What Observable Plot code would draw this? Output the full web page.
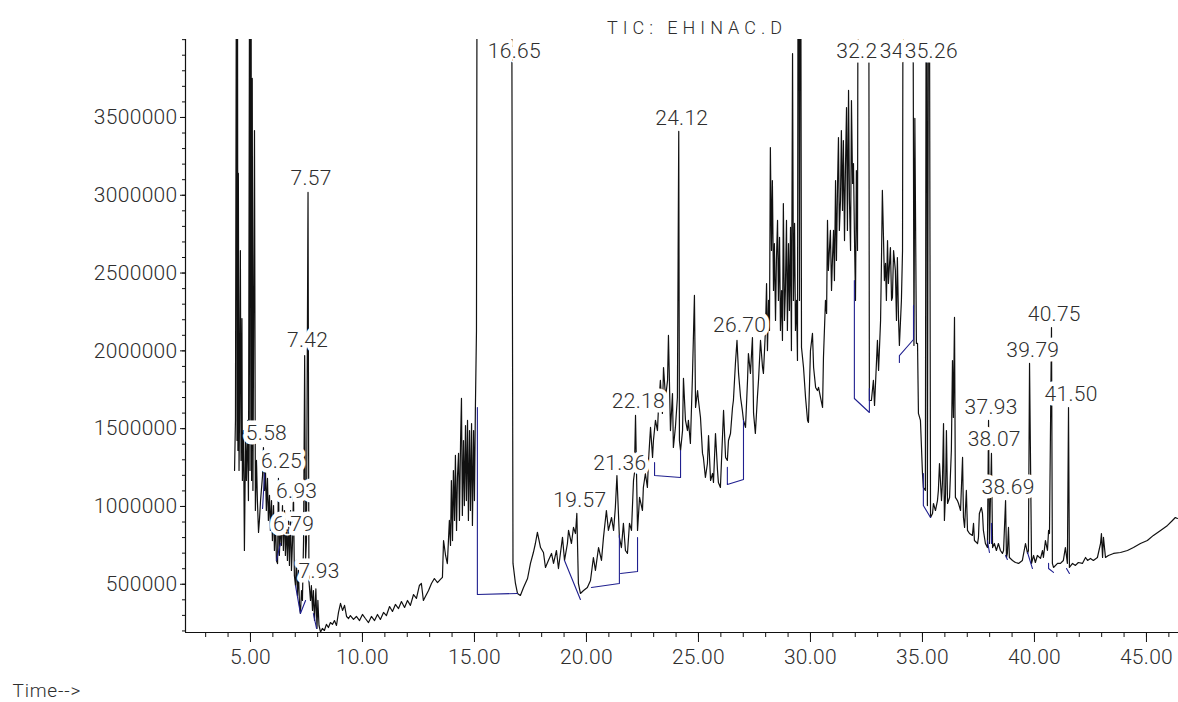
<!DOCTYPE html>
<html><head><meta charset="utf-8">
<script src="https://cdn.jsdelivr.net/npm/d3@7"></script>
<script src="https://cdn.jsdelivr.net/npm/@observablehq/plot@0.6"></script>
<style>
html,body{margin:0;padding:0;background:#fff;}
svg{display:block;}
svg text{letter-spacing:0.3px;font-weight:300;}
</style></head><body><div id="chart"></div>
<script>
// ---- chromatogram trace: [time (min), abundance] ----
const traceA = [[4.29,1231000],[4.33,1553000],[4.38,5200000],[4.40,1424000],[4.42,4800000],[4.44,1360000],[4.46,3140000],[4.49,1231000],[4.51,1553000],[4.55,2645000],[4.58,1296000],[4.62,2208000],[4.64,1167000],[4.69,1488000],[4.73,717000],[4.78,1424000],[4.82,1167000],[4.87,1553000],[4.91,1038000],[4.96,4500000],[4.98,1231000],[5.02,6000000],[5.05,1167000],[5.08,3751000],[5.11,1103000],[5.18,3416000],[5.22,974000],[5.27,1296000],[5.31,1038000],[5.36,833000],[5.40,910000],[5.45,1038000],[5.54,1199000],[5.58,1379000],[5.63,1103000],[5.67,1231000],[5.71,974000],[5.76,1180000],[5.80,910000],[5.85,1071000],[5.89,846000],[5.94,1038000],[5.98,781000],[6.03,1006000],[6.07,717000],[6.12,910000],[6.16,653000],[6.21,633000],[6.25,1180000],[6.29,685000],[6.34,910000],[6.38,749000],[6.43,1006000],[6.47,717000],[6.52,974000],[6.56,685000],[6.61,878000],[6.65,653000],[6.70,910000],[6.74,621000],[6.79,974000],[6.83,589000],[6.88,781000],[6.92,1103000],[6.96,556000],[7.01,492000],[7.05,653000],[7.10,428000],[7.14,589000],[7.19,364000],[7.23,312000],[7.28,460000],[7.32,396000],[7.37,781000],[7.42,1970000],[7.46,653000],[7.50,781000],[7.57,3018000],[7.61,524000],[7.68,396000],[7.72,492000],[7.77,332000],[7.81,460000],[7.86,267000],[7.92,470000],[7.97,216000],[8.01,396000],[8.06,235000],[8.13,193000],[8.21,216000],[8.30,203000],[8.39,242000],[8.48,222000],[8.57,254000],[8.66,242000],[8.75,267000],[8.84,235000],[8.93,319000],[9.02,377000],[9.11,332000],[9.20,364000],[9.29,293000],[9.38,280000],[9.46,299000],[9.60,274000],[9.73,293000],[9.87,267000]];
const traceB = [[10.00,306000],[10.13,280000],[10.27,254000],[10.40,293000],[10.54,267000],[10.67,306000],[10.80,274000],[10.94,319000],[11.07,299000],[11.21,357000],[11.34,325000],[11.47,370000],[11.61,344000],[11.74,389000],[11.88,351000],[12.01,396000],[12.14,364000],[12.28,434000],[12.41,409000],[12.54,492000],[12.63,505000],[12.72,396000],[12.81,421000],[12.95,460000],[13.08,505000],[13.21,537000],[13.35,511000],[13.48,531000],[13.57,544000],[13.62,781000],[13.71,685000],[13.79,633000],[13.88,910000],[13.93,749000],[13.97,1167000],[14.02,781000],[14.06,1231000],[14.11,910000],[14.15,1328000],[14.20,846000],[14.24,1186000],[14.29,1341000],[14.33,910000],[14.38,1424000],[14.42,1694000],[14.46,942000],[14.51,1424000],[14.55,1006000],[14.60,1520000],[14.64,1038000],[14.69,1553000],[14.73,910000],[14.78,1488000],[14.82,974000],[14.87,1533000],[14.91,878000],[14.96,1488000],[15.00,1038000],[15.04,1617000],[15.09,2131000],[15.13,6000000],[16.64,6000000]];
const traceC = [[16.72,634000],[16.83,505000],[16.92,441000],[17.05,428000],[17.19,479000],[17.37,537000],[17.50,634000],[17.63,704000],[17.72,762000],[17.81,833000],[17.95,736000],[18.08,704000],[18.17,608000],[18.30,653000],[18.44,698000],[18.53,634000],[18.66,717000],[18.75,601000],[18.93,801000],[19.02,653000],[19.15,762000],[19.20,846000],[19.33,762000],[19.42,865000],[19.51,826000],[19.57,955000],[19.64,505000],[19.73,441000],[19.87,460000],[20.04,479000],[20.18,524000],[20.31,672000],[20.40,589000],[20.54,736000],[20.67,653000],[20.76,801000],[20.89,974000],[20.98,846000],[21.12,929000],[21.21,846000],[21.29,993000],[21.36,1199000],[21.47,801000],[21.56,736000],[21.65,891000],[21.74,717000],[21.83,698000],[21.92,891000],[22.01,846000],[22.10,1167000],[22.14,1212000],[22.19,1585000],[22.28,846000],[22.37,1058000],[22.50,974000],[22.54,1122000],[22.63,1212000],[22.72,1122000],[22.77,1296000],[22.86,1508000],[22.95,1315000],[22.99,1424000],[23.08,1553000],[23.17,1488000],[23.21,1617000],[23.30,1810000],[23.39,1598000],[23.44,1893000],[23.53,1700000],[23.62,1810000],[23.66,2099000],[23.75,1488000],[23.84,1726000],[23.88,1379000],[23.97,1508000],[24.06,1700000],[24.12,3410000],[24.15,1424000],[24.20,1360000],[24.29,1488000],[24.33,1823000],[24.42,1553000],[24.51,1488000],[24.55,1553000],[24.64,1405000],[24.73,1829000],[24.82,2356000],[24.87,1636000],[24.96,1745000],[25.00,1681000],[25.09,1572000],[25.18,1341000],[25.22,1315000],[25.31,1186000],[25.40,1276000],[25.45,1456000],[25.54,1167000],[25.63,1212000],[25.67,1154000],[25.76,1469000],[25.85,1231000],[25.89,1154000],[25.98,1122000],[26.12,1617000],[26.21,1315000],[26.29,1296000],[26.34,1424000],[26.43,1469000],[26.52,1636000],[26.56,1681000],[26.65,1919000],[26.72,2067000],[26.79,1855000],[26.88,1700000],[26.96,1617000],[27.01,1553000],[27.10,1508000],[27.19,1810000],[27.23,1983000],[27.32,1855000],[27.41,2086000],[27.46,1598000],[27.54,1469000],[27.63,1700000],[27.68,1810000],[27.77,2067000],[27.86,1893000],[27.90,1855000]];
const traceD = [[27.99,2131000],[28.04,2433000],[28.08,2002000],[28.13,2324000],[28.17,2131000],[28.21,3307000],[28.26,2645000],[28.30,3095000],[28.35,2388000],[28.39,2690000],[28.44,2195000],[28.48,2581000],[28.53,2838000],[28.57,2324000],[28.62,2729000],[28.66,2131000],[28.71,2388000],[28.75,2067000],[28.79,2947000],[28.84,2195000],[28.88,2388000],[28.93,2838000],[28.97,2131000],[29.02,2690000],[29.06,2260000],[29.11,2793000],[29.15,2002000],[29.20,3911000],[29.24,2324000],[29.29,2819000],[29.33,2131000],[29.38,2324000],[29.42,1938000],[29.46,6000000],[29.51,2324000],[29.55,6000000],[29.60,2022000],[29.69,1893000],[29.78,1700000],[29.87,1553000],[29.91,1540000],[30.00,2002000],[30.09,2112000],[30.14,1893000],[30.23,1765000],[30.31,1745000],[30.36,1765000],[30.45,1700000],[30.54,1636000],[30.58,1958000],[30.67,2324000],[30.72,2240000],[30.76,2838000],[30.80,2517000],[30.89,2774000],[30.94,2388000],[30.98,2581000],[31.03,2774000],[31.07,2452000],[31.12,3095000],[31.16,2581000],[31.21,3076000],[31.25,3371000],[31.29,2774000],[31.34,2967000],[31.38,3416000],[31.43,2902000],[31.47,3352000],[31.52,2709000],[31.56,3159000],[31.61,3564000],[31.65,2774000],[31.70,3674000],[31.74,2967000],[31.79,2645000],[31.83,3609000],[31.88,3076000],[31.92,3204000],[31.96,2774000],[32.01,2324000],[32.05,3159000],[32.10,2645000],[32.14,6000000],[32.59,6000000],[32.63,1681000],[32.72,1681000],[32.81,1810000],[32.86,1649000],[32.95,1938000],[32.99,2067000],[33.04,1874000],[33.13,2195000],[33.17,2581000],[33.21,3031000],[33.26,2729000],[33.30,2452000],[33.35,2562000],[33.39,2324000],[33.44,2709000],[33.48,2433000],[33.57,2664000],[33.62,2324000],[33.66,2343000],[33.71,2645000],[33.79,2517000],[33.84,2195000],[33.88,2600000],[33.93,2215000],[33.97,2035000],[34.06,2324000],[34.11,2645000],[34.15,6000000],[34.55,6000000],[34.62,2035000],[34.66,3494000],[34.73,2048000],[34.78,2048000],[34.82,1598000],[34.91,1553000],[35.00,1212000],[35.04,1122000],[35.13,1103000],[35.18,6000000],[35.22,1006000],[35.29,6000000]];
const traceE = [[35.36,929000],[35.45,955000],[35.49,1019000],[35.58,974000],[35.67,1038000],[35.71,1103000],[35.76,1276000],[35.85,1038000],[35.89,1148000],[35.94,1533000],[35.98,910000],[36.03,1083000],[36.07,1488000],[36.12,1019000],[36.21,1058000],[36.29,1360000],[36.34,1938000],[36.38,1572000],[36.43,2215000],[36.47,1058000],[36.56,1038000],[36.61,1019000],[36.70,974000],[36.79,1315000],[36.83,929000],[36.88,865000],[36.96,1103000],[37.01,846000],[37.10,826000],[37.23,814000],[37.28,891000],[37.32,781000],[37.46,762000],[37.50,801000],[37.54,955000],[37.63,993000],[37.68,955000],[37.72,846000],[37.81,762000],[37.90,736000],[37.95,1553000],[37.99,762000],[38.08,1341000],[38.13,736000],[38.21,762000],[38.30,717000],[38.39,762000],[38.48,717000],[38.57,698000],[38.62,717000],[38.71,1038000],[38.75,672000],[38.79,698000],[38.84,865000],[38.88,672000],[39.02,653000],[39.15,640000],[39.29,634000],[39.46,653000],[39.60,762000],[39.69,698000],[39.73,717000],[39.78,1919000],[39.87,634000],[39.96,685000],[40.04,640000],[40.13,685000],[40.27,666000],[40.36,717000],[40.40,672000],[40.49,781000],[40.58,717000],[40.63,846000],[40.67,826000],[40.76,2150000],[40.80,634000],[40.85,608000],[41.03,634000],[41.16,634000],[41.29,653000],[41.38,736000],[41.47,634000],[41.52,1636000],[41.56,608000],[41.70,634000],[41.83,621000],[41.96,640000],[42.14,634000],[42.28,672000],[42.37,653000],[42.50,666000],[42.63,653000],[42.81,672000],[42.95,762000],[42.99,826000],[43.04,672000],[43.08,801000],[43.17,672000],[43.30,685000],[43.53,698000],[43.84,704000],[44.15,717000],[44.42,736000],[44.73,762000],[45.04,781000],[45.31,814000],[45.63,846000],[45.94,878000],[46.16,910000],[46.29,929000],[46.38,923000]];

// ---- integration baselines (blue) ----
const baselines = [
  [[5.54,987000],[5.63,1212000]],
  [[6.16,653000],[6.34,762000]],
  [[7.01,492000],[7.23,312000],[7.46,396000]],
  [[7.81,312000],[7.95,216000]],
  [[15.13,1636000],[15.13,434000],[16.92,441000]],
  [[19.02,653000],[19.73,402000]],
  [[20.22,479000],[21.47,505000],[21.47,814000]],
  [[21.52,569000],[22.28,582000],[22.28,801000]],
  [[23.04,1283000],[23.04,1199000],[24.20,1186000],[24.20,1360000]],
  [[26.29,1251000],[26.29,1141000],[27.01,1173000],[27.01,1553000]],
  [[31.96,2452000],[31.96,1694000],[32.63,1604000],[32.63,1758000]],
  [[33.97,1925000],[33.97,1970000],[34.60,2073000],[34.60,2292000]],
  [[35.04,1212000],[35.04,1006000],[35.36,929000]],
  [[37.90,781000],[37.99,704000]],
  [[38.08,891000],[38.08,762000]],
  [[38.71,685000],[38.79,659000]],
  [[39.69,704000],[39.91,601000]],
  [[40.63,634000],[40.63,601000],[40.85,576000]],
  [[41.43,601000],[41.56,569000]]
];

// ---- peak labels ----
const labelTimes  = [5.58, 6.25, 6.79, 6.93, 7.42, 7.57, 7.93, 16.65, 19.57, 21.36, 22.18, 24.12, 26.70, 32.20, 34.15, 35.26, 37.93, 38.07, 38.69, 39.79, 40.75, 41.50];
const labelTexts  = ["5.58","6.25","6.79","6.93","7.42","7.57","7.93","16.65","19.57","21.36","22.18","24.12","26.70","32.20","34.15","35.26","37.93","38.07","38.69","39.79","40.75","41.50"];
const labelLevels = [1469000,1289000,884000,1096000,2067000,3108000,582000,3924000,1038000,1276000,1675000,3494000,2163000,3924000,3924000,3924000,1636000,1431000,1122000,2002000,2234000,1720000];

// ---- axes ----
const xTickValues = [5, 10, 15, 20, 25, 30, 35, 40, 45];
const yTickValues = [500000, 1000000, 1500000, 2000000, 2500000, 3000000, 3500000];
const xDomain = [2.1, 46.43];
const yDomain = [190000, 4001000];
const titleText = "TIC: EHINAC.D";
const xAxisText = "Time-->";

const trace = [...traceA, ...traceB, ...traceC, ...traceD, ...traceE].map(([t, v]) => ({t, v}));
const baseRows = baselines.flatMap((pts, i) => pts.map(([t, v]) => ({id: i, t, v})));
const labels = labelTimes.map((t, i) => ({t, v: labelLevels[i], text: labelTexts[i]}));

const FONT = "Roboto, 'Liberation Sans', sans-serif";
const INK = "#2e2e2e";

const chart = Plot.plot({
  width: 1178,
  height: 702,
  marginLeft: 185,
  marginRight: 0,
  marginTop: 39,
  marginBottom: 70,
  style: {fontFamily: FONT, fontSize: "21px", color: "#222", background: "#fff"},
  x: {domain: xDomain, axis: null},
  y: {domain: yDomain, axis: null},
  marks: [
    Plot.axisY(d3.range(200000, 4000001, 100000), {anchor: "left", tickSize: 3, text: null, label: null, stroke: "#111"}),
    Plot.axisY(yTickValues, {anchor: "left", tickSize: 5, tickPadding: 3, tickFormat: d => String(d), label: null, fontSize: 21, stroke: "#111", fill: INK}),
    Plot.axisX(d3.range(3, 47), {anchor: "bottom", tickSize: 5, text: null, label: null, stroke: "#111"}),
    Plot.axisX(xTickValues, {anchor: "bottom", tickSize: 10, tickPadding: 7, tickFormat: d => d.toFixed(2), label: null, fontSize: 21, stroke: "#111", fill: INK}),
    Plot.ruleX([xDomain[0]], {stroke: "#111", strokeWidth: 1.2}),
    Plot.ruleY([yDomain[0]], {stroke: "#111", strokeWidth: 1.2}),
    Plot.line(trace, {x: "t", y: "v", stroke: "#111", strokeWidth: 1.2, clip: true}),
    Plot.line(baseRows, {x: "t", y: "v", z: "id", stroke: "#20208f", strokeWidth: 1.1, clip: true}),
    Plot.text(labels, {x: "t", y: "v", text: "text", dx: 3, fontSize: 21, lineAnchor: "middle", fill: INK, stroke: "white", strokeWidth: 9, strokeLinejoin: "round"}),
    Plot.text([titleText], {frameAnchor: "top", dx: 15, dy: -11, lineAnchor: "middle", fontSize: 18, fill: INK}),
    Plot.text([xAxisText], {frameAnchor: "bottom-left", textAnchor: "start", dx: -173, dy: 58, lineAnchor: "middle", fontSize: 19, fill: INK})
  ]
});
d3.select(chart).selectAll("text")
  .filter(function () { return this.textContent === titleText; })
  .style("letter-spacing", "5px");
d3.select(chart).selectAll("text")
  .filter(function () { return this.textContent === xAxisText; })
  .style("letter-spacing", "0.8px");
document.getElementById("chart").appendChild(chart);
</script>
</body></html>
